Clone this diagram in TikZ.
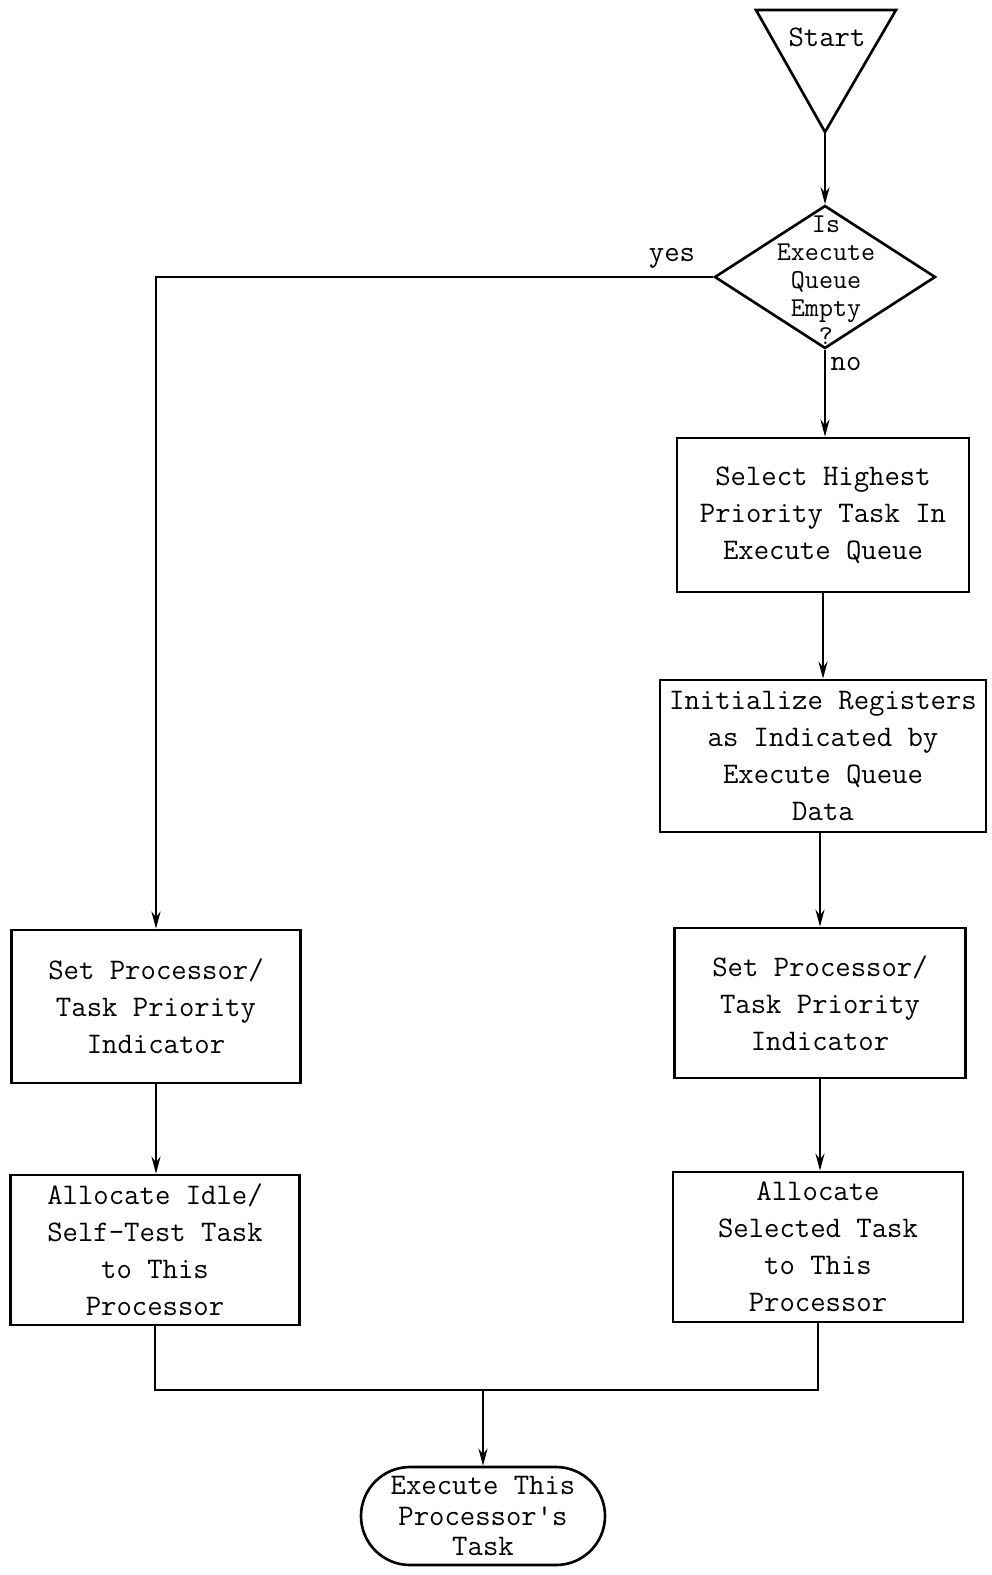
\documentclass[tikz,border=0pt]{standalone}
\usepackage{tikz}
\usetikzlibrary{shapes,arrows,positioning,calc,arrows.meta}

\begin{document}
\begin{tikzpicture}[
    line width=1.5pt,
    every node/.style={font=\ttfamily\fontsize{17}{21}\selectfont},
    taskbox/.style={draw, rectangle, align=center, inner sep=2pt},
    flow/.style={-{Stealth[length=0.34cm,width=0.18cm]}}
  ]
    \useasboundingbox (0,0) rectangle (19.82,-31.5);

    % Start
    \coordinate (apex) at (16.5,-2.64);
    \draw (15.12,-0.2) -- (17.92,-0.2) -- (apex) -- cycle;
    \node (start) at (16.54,-0.74) {Start};

    % Decision
    \node[draw, diamond, minimum width=4.42cm, minimum height=2.86cm, inner sep=0pt] (dec) at (16.5,-5.54) {};
    \node[align=center, font=\ttfamily\fontsize{15.5}{16}\selectfont] (dectext) at (16.52,-5.6) {Is\\Execute\\Queue\\Empty\\?};
    \node (yes) at (13.44,-5.16) {yes};
    \node (no) at (16.92,-7.28) {no};

    % right branch
    \node[taskbox, minimum width=5.84cm, minimum height=3.08cm] (sel) at (16.46,-10.3) {Select Highest\\Priority Task In\\Execute Queue};
    \node[taskbox, minimum width=6.52cm, minimum height=3.04cm] (init) at (16.46,-15.12) {Initialize Registers\\as Indicated by\\Execute Queue\\Data};
    \node[taskbox, minimum width=5.82cm, minimum height=3.0cm] (setR) at (16.4,-20.06) {Set Processor/\\Task Priority\\Indicator};
    \node[taskbox, minimum width=5.8cm, minimum height=3.0cm] (allocR) at (16.36,-24.94) {Allocate\\Selected Task\\to This\\Processor};

    % left branch
    \node[taskbox, minimum width=5.78cm, minimum height=3.06cm] (setL) at (3.12,-20.13) {Set Processor/\\Task Priority\\Indicator};
    \node[taskbox, minimum width=5.78cm, minimum height=3.0cm] (allocL) at (3.1,-25.0) {Allocate Idle/\\Self-Test Task\\to This\\Processor};

    % end
    \node[draw, rectangle, rounded corners=0.98cm, minimum width=4.88cm, minimum height=1.96cm, align=center, inner sep=0pt, font=\ttfamily\fontsize{17}{17.6}\selectfont] (exec) at (9.66,-30.32) {Execute This\\Processor's\\Task};
    \coordinate (merge) at (9.66,-27.8);

    % connectors (kept vertical)
    \draw[flow] (apex) -- (apex |- dec.north);
    \draw[flow] (dec.west) -| (setL.north);
    \draw[flow] (dec.south) -- (dec.south |- sel.north);
    \draw[flow] (sel.south) -- (sel.south |- init.north);
    \draw[flow] (setR.north |- init.south) -- (setR.north);
    \draw[flow] (setR.south) -- (setR.south |- allocR.north);
    \draw[flow] (setL.south) -- (setL.south |- allocL.north);
    \draw (allocL.south) |- (merge) -| (allocR.south);
    \draw[flow] (merge) -- (exec.north);
\end{tikzpicture}
\end{document}
